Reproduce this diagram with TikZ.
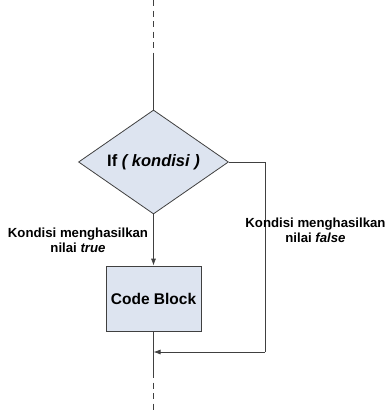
\documentclass[tikz,border=0pt]{standalone}
\usepackage{fontspec}
\setmainfont{Liberation Sans}
\usetikzlibrary{shapes.geometric,arrows.meta}
\definecolor{boxfill}{HTML}{DDE4F0}
\definecolor{edge}{HTML}{404040}
\begin{document}
\begin{tikzpicture}[x=1pt,y=-1pt,
  flow/.style={draw=edge,line width=0.8pt},
  arr/.style={flow,-{Latex[length=7pt,width=5pt]}},
  dashline/.style={flow,dash pattern=on 6pt off 4.5pt},
  decision/.style={diamond,aspect=1.44,draw=edge,fill=boxfill,line width=0.8pt,inner sep=0pt,
    minimum width=150pt,minimum height=104pt,font=\fontsize{16.5}{18}\selectfont\bfseries},
  process/.style={rectangle,draw=edge,fill=boxfill,line width=0.8pt,inner sep=0pt,
    minimum width=95pt,minimum height=65pt,font=\fontsize{15.5}{18}\selectfont\bfseries},
  lbl/.style={align=center,inner sep=0pt,font=\fontsize{13.2}{15}\selectfont\bfseries}]
\useasboundingbox (0,0) rectangle (386,410);
\node[decision] (cond) at (153.5,162) {If \textit{( kondisi )}};
\node[process] (code) at (153.5,298.5) {Code Block};
\coordinate (topend) at (153.5,0);
\coordinate (topsolid) at (153.5,55);
\coordinate (turn1) at (265,162);
\coordinate (turn2) at (265,352);
\coordinate (join) at (153.5,352);
\coordinate (botsolid) at (153.5,372);
\coordinate (botend) at (153.5,410);
\draw[dashline] (topend) -- (topsolid);
\draw[flow] (topsolid) -- (cond.north);
\draw[arr] (cond.south) -- (code.north);
\draw[flow] (cond.east) -- (turn1) -- (turn2);
\draw[arr] (turn2) -- (join);
\draw[flow] (code.south) -- (botsolid);
\draw[dashline] (botsolid) -- (botend);
\node[lbl] (truelbl) at (78,240) {Kondisi menghasilkan\\nilai \textit{true}};
\node[lbl] (falselbl) at (315.5,230) {Kondisi menghasilkan\\nilai \textit{false}};
\end{tikzpicture}
\end{document}
